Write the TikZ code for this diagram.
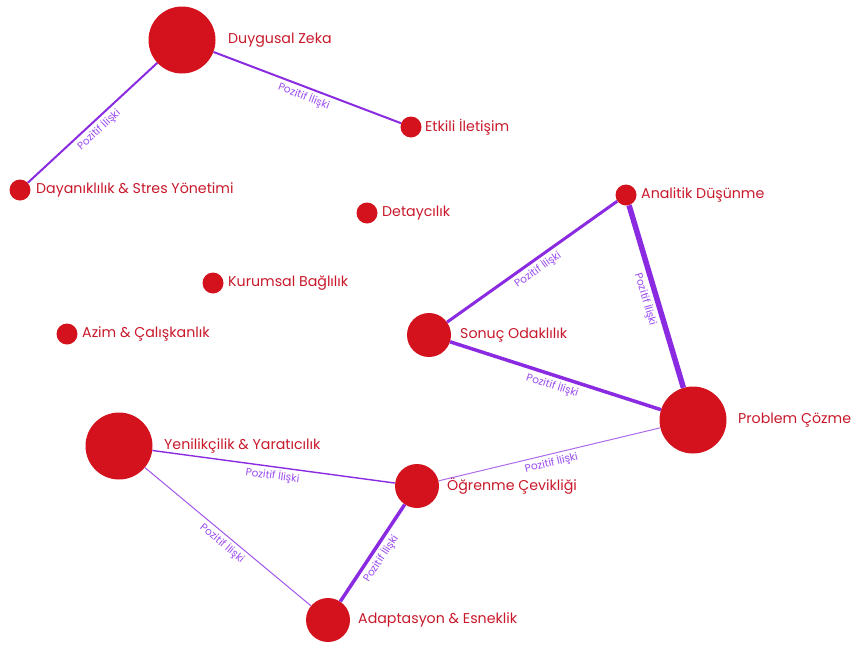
\documentclass[tikz,border=0pt]{standalone}
\usepackage{fontspec}
\setmainfont{Poppins}
\definecolor{nodered}{HTML}{D3121E}
\definecolor{labelred}{HTML}{C8192B}
\definecolor{edgeviolet}{HTML}{8A2BE2}
\definecolor{edgelabel}{HTML}{9A4BF0}
\tikzset{
  skill/.style={circle, fill=nodered, inner sep=0pt},
  big/.style={skill, minimum size=67pt},
  mid/.style={skill, minimum size=44pt},
  small/.style={skill, minimum size=21pt},
  nlabel/.style={anchor=west, text=labelred, font=\fontsize{14.2}{16}\selectfont, inner sep=0pt},
  edge/.style={draw=edgeviolet},
  elbl/.style={sloped, below, text=edgelabel, font=\fontsize{10.5}{12}\selectfont, inner sep=2.5pt, midway}
}
\begin{document}
\begin{tikzpicture}[x=1pt,y=-1pt]
\useasboundingbox (0,0) rectangle (852,646);
% nodes
\node[big] (dz) at (182,40) {};
\node[small] (ei) at (411,127) {};
\node[small] (day) at (20,190) {};
\node[small] (det) at (367,213) {};
\node[small] (ad) at (626,195) {};
\node[small] (kb) at (213,283) {};
\node[small] (az) at (67,334) {};
\node[mid] (so) at (429,335) {};
\node[big] (pc) at (693,420) {};
\node[big] (yen) at (119,446) {};
\node[mid] (oc) at (417,486) {};
\node[mid] (ada) at (328,620) {};
% labels
\node[nlabel] (dzl) at (228,40) {Duygusal Zeka};
\node[nlabel] (eil) at (425,127) {Etkili İletişim};
\node[nlabel] (dayl) at (36,190) {Dayanıklılık \& Stres Yönetimi};
\node[nlabel] (detl) at (382,213) {Detaycılık};
\node[nlabel] (adl) at (641,195) {Analitik Düşünme};
\node[nlabel] (kbl) at (228,283) {Kurumsal Bağlılık};
\node[nlabel] (azl) at (82,334) {Azim \& Çalışkanlık};
\node[nlabel] (sol) at (460,335) {Sonuç Odaklılık};
\node[nlabel] (pcl) at (738,420) {Problem Çözme};
\node[nlabel] (yenl) at (164,446) {Yenilikçilik \& Yaratıcılık};
\node[nlabel] (ocl) at (447,486) {Öğrenme Çevikliği};
\node[nlabel] (adal) at (358,620) {Adaptasyon \& Esneklik};
% edges
\draw[edge, line width=2pt] (dz) -- node[elbl] {Pozitif İlişki} (ei);
\draw[edge, line width=2pt] (dz) -- node[elbl] {Pozitif İlişki} (day);
\draw[edge, line width=3pt] (so) -- node[elbl] {Pozitif İlişki} (ad);
\draw[edge, line width=5.5pt] (ad) -- node[elbl] {Pozitif İlişki} (pc);
\draw[edge, line width=3.5pt] (so) -- node[elbl] {Pozitif İlişki} (pc);
\draw[edge, line width=1pt, draw opacity=0.7] (pc) -- node[elbl] {Pozitif İlişki} (oc);
\draw[edge, line width=1.4pt] (yen) -- node[elbl] {Pozitif İlişki} (oc);
\draw[edge, line width=1pt, draw opacity=0.8] (yen) -- node[elbl] {Pozitif İlişki} (ada);
\draw[edge, line width=3.5pt] (oc) -- node[elbl] {Pozitif İlişki} (ada);
\end{tikzpicture}
\end{document}
